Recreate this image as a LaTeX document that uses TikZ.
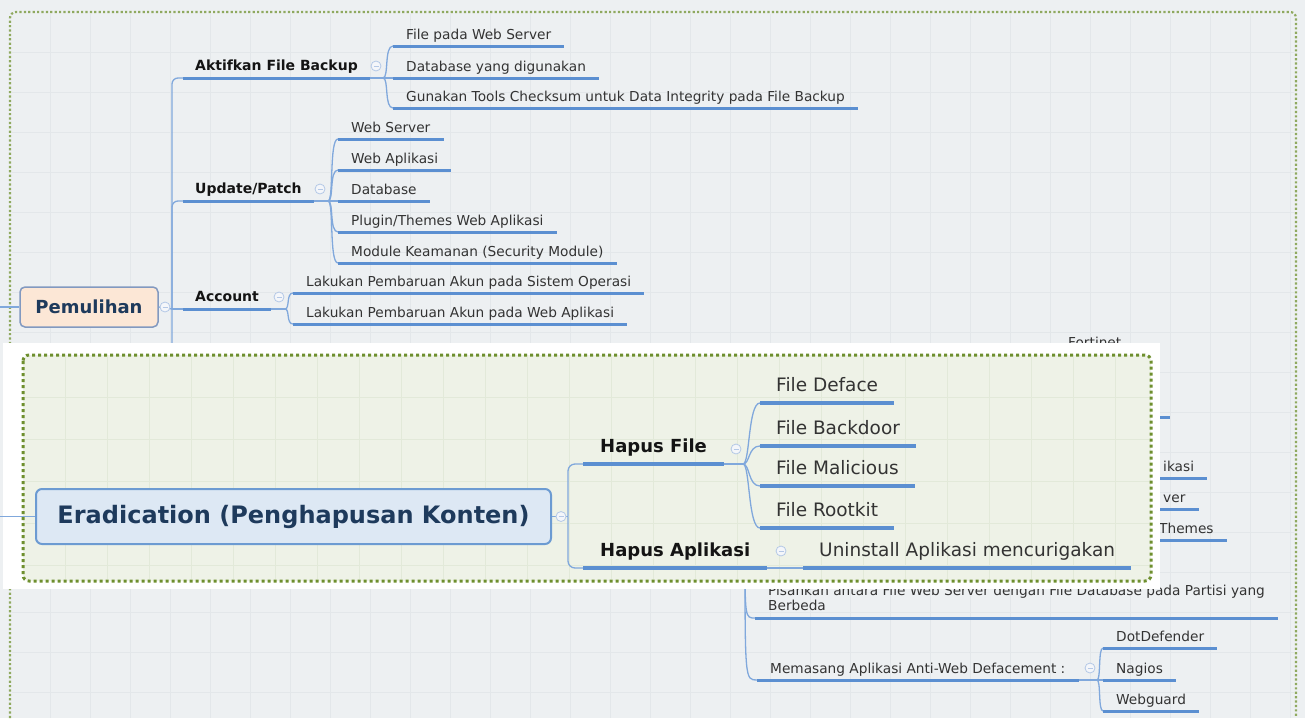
\documentclass[tikz,border=0pt]{standalone}
\usepackage{fontspec}
\setmainfont{DejaVu Sans}
\definecolor{bgfill}{HTML}{EDF0F2}
\definecolor{gridline}{HTML}{E3E7EA}
\definecolor{outerdot}{HTML}{8FA95F}
\definecolor{innerdot}{HTML}{6E8F2E}
\definecolor{panelfill}{HTML}{EEF2E7}
\definecolor{panelgrid}{HTML}{E2E9D9}
\definecolor{ulblue}{HTML}{5B8FD1}
\definecolor{linkblue}{HTML}{80A8DC}
\definecolor{foldblue}{HTML}{B4C8E6}
\definecolor{foldfill}{HTML}{F4F6FA}
\definecolor{itemtxt}{HTML}{333333}
\definecolor{labeltxt}{HTML}{141414}
\definecolor{rootnavy}{HTML}{1E3A5C}
\definecolor{pemfill}{HTML}{FCE7D6}
\definecolor{pemborder}{HTML}{8299C0}
\definecolor{erdfill}{HTML}{DDE8F4}
\definecolor{erdborder}{HTML}{6C9BD2}
\begin{document}
\begin{tikzpicture}[
 x=1pt,y=-1pt,
 item/.style={anchor=south west,inner xsep=13pt,inner ysep=3pt,text height=10pt,text depth=3pt,
  text=itemtxt,font={\fontsize{13.7pt}{15.5pt}\selectfont}},
 branch/.style={anchor=south west,inner xsep=12pt,inner ysep=3pt,text height=10pt,text depth=4pt,
  text=labeltxt,font={\bfseries\fontsize{14pt}{16pt}\selectfont}},
 bigitem/.style={anchor=south west,inner xsep=16pt,inner ysep=5pt,text height=14pt,text depth=6pt,
  text=itemtxt,font={\fontsize{18.5pt}{22pt}\selectfont}},
 bigbranch/.style={anchor=south west,inner xsep=17pt,inner ysep=5pt,text height=14pt,text depth=6pt,
  text=labeltxt,font={\bfseries\fontsize{18pt}{22pt}\selectfont}},
 rootP/.style={rounded corners=5pt,draw=pemborder,fill=pemfill,line width=1.5pt,text=rootnavy,
  font={\bfseries\fontsize{18pt}{20pt}\selectfont},minimum width=138pt,minimum height=40pt},
 rootE/.style={rounded corners=6pt,draw=erdborder,fill=erdfill,line width=2pt,text=rootnavy,
  font={\bfseries\fontsize{24pt}{28pt}\selectfont},minimum width=515pt,minimum height=55pt},
 uline/.style={draw=ulblue,line width=3pt},
 link/.style={draw=linkblue,line width=1.3pt},
 fold/.style={circle,draw=foldblue,fill=foldfill,line width=0.8pt,minimum size=10pt,inner sep=0pt,
  path picture={\draw[foldblue,line width=0.9pt]
   ([xshift=-2.5pt]path picture bounding box.center) -- ([xshift=2.5pt]path picture bounding box.center);}},
 outerdots/.style={draw=outerdot,line width=2.2pt,dash pattern=on 2.2pt off 2.2pt},
 innerdots/.style={draw=innerdot,line width=3pt,dash pattern=on 3pt off 3pt}
]
 % background map sheet
 \fill[bgfill] (0,0) rectangle (1305,718);
 \useasboundingbox (0,0) rectangle (1305,718);
 \foreach \gx in {50,90,...,1290} \draw[gridline] (\gx,14) -- (\gx,718);
 \foreach \gy in {52,92,...,712} \draw[gridline] (12,\gy) -- (1294,\gy);
 \draw[outerdots,rounded corners=6pt] (10,718) -- (10,12) -- (1296,12) -- (1296,718);

 % Pemulihan and its branches
 \node[rootP] (pem) at (89,307) {Pemulihan};
 \coordinate (inP) at (0,307);
 \coordinate (tP) at (172,309);
 \coordinate (tPd) at (172,380);
 \draw[link] (inP) -- (pem.west);
 \draw[link] (pem.east) -- (tP) -- (tPd);

 \node[branch] (akt) at (183,78) {Aktifkan File Backup};
 \node[branch] (upd) at (183,201) {Update/Patch};
 \node[branch] (acc) at (183,309) {Account};
 \draw[link,rounded corners=6pt] (tP) |- (akt.south west);
 \draw[link,rounded corners=6pt] (tP) |- (upd.south west);
 \draw[link] (tP) -- (acc.south west);

 \node[item] (a1) at (393,46) {File pada Web Server};
 \node[item] (a2) at (393,78) {Database yang digunakan};
 \node[item] (a3) at (393,108) {Gunakan Tools Checksum untuk Data Integrity pada File Backup};
 \node[item] (u1) at (338,139) {Web Server};
 \node[item] (u2) at (338,170) {Web Aplikasi};
 \node[item] (u3) at (338,201) {Database};
 \node[item] (u4) at (338,232) {Plugin/Themes Web Aplikasi};
 \node[item] (u5) at (338,263) {Module Keamanan (Security Module)};
 \node[item] (c1) at (293,293) {Lakukan Pembaruan Akun pada Sistem Operasi};
 \node[item] (c2) at (293,324) {Lakukan Pembaruan Akun pada Web Aplikasi};

 \coordinate (fA) at (383,78);
 \coordinate (fU) at (328,201);
 \coordinate (fC) at (285,309);
 \draw[link] (akt.south east) -- (fA);
 \draw[link] (upd.south east) -- (fU);
 \draw[link] (acc.south east) -- (fC);
 \foreach \c in {a1,a2,a3}
  \draw[link] (fA) .. controls +(6,0) and +(-9,0) .. (\c.south west);
 \foreach \c in {u1,u2,u3,u4,u5}
  \draw[link] (fU) .. controls +(6,0) and +(-9,0) .. (\c.south west);
 \foreach \c in {c1,c2}
  \draw[link] (fC) .. controls +(5,0) and +(-7,0) .. (\c.south west);

 \node[fold] (kP) at (165,307) {};
 \node[fold] (kA) at (376,66) {};
 \node[fold] (kU) at (320,189) {};
 \node[fold] (kC) at (279,297) {};

 % lower branch, mostly behind the inset
 \coordinate (fB) at (745,550);
 \node[anchor=south west,inner xsep=13pt,inner ysep=7pt,align=left,text=itemtxt,
  font={\fontsize{13.7pt}{15pt}\selectfont}] (p1) at (755,618)
  {Pisahkan antara File Web Server dengan File Database pada Partisi yang\\Berbeda};
 \node[item] (m1) at (757,680) {Memasang Aplikasi Anti-Web Defacement :};
 \node[item] (d1) at (1103,648) {DotDefender};
 \node[item] (d2) at (1103,680) {Nagios};
 \node[item] (d3) at (1103,711) {Webguard};
 \draw[link] (fB) .. controls (fB |- p1.south west) .. (p1.south west);
 \draw[link] (fB) .. controls (fB |- m1.south west) .. (m1.south west);
 \coordinate (fM) at (1097,680);
 \draw[link] (m1.south east) -- (fM);
 \foreach \c in {d1,d2,d3}
  \draw[link] (fM) .. controls +(4,0) and +(-5,0) .. (\c.south west);
 \node[fold] (kM) at (1090,668) {};

 % pieces showing right of the inset
 \node[item] (fo) at (1055,354) {Fortinet};
 \node[item] (r1) at (1150,478) {ikasi};
 \node[item] (r2) at (1150,509) {ver};
 \node[item] (r3) at (1146,540) {Themes};
 \coordinate (g1) at (1150,417);
 \coordinate (g2) at (1170,417);
 \draw[uline] (g1) -- (g2);

 \foreach \n in {akt,upd,acc,a1,a2,a3,u1,u2,u3,u4,u5,c1,c2,p1,m1,d1,d2,d3,fo,r1,r2,r3}
  \draw[uline] (\n.south west) -- (\n.south east);

 % inset: Eradication map
 \fill[white] (3,343) rectangle (1160,589);
 \draw[innerdots,fill=panelfill,rounded corners=6pt] (23,355) rectangle (1151,581);
 \foreach \gx in {65,107,...,1140} \draw[panelgrid] (\gx,357) -- (\gx,579);
 \foreach \gy in {397,439,...,575} \draw[panelgrid] (25,\gy) -- (1149,\gy);

 \node[rootE] (erd) at (293.5,516.5) {Eradication (Penghapusan Konten)};
 \coordinate (inE) at (0,516.5);
 \coordinate (tE) at (568,516.5);
 \draw[link] (inE) -- (erd.west);
 \draw[link] (erd.east) -- (tE);

 \node[bigbranch] (hf) at (583,464) {Hapus File};
 \node[bigbranch] (ha) at (583,568) {Hapus Aplikasi};
 \draw[link,rounded corners=7pt] (tE) |- (hf.south west);
 \draw[link,rounded corners=7pt] (tE) |- (ha.south west);

 \node[bigitem] (e1) at (760,403) {File Deface};
 \node[bigitem] (e2) at (760,446) {File Backdoor};
 \node[bigitem] (e3) at (760,486) {File Malicious};
 \node[bigitem] (e4) at (760,528) {File Rootkit};
 \node[bigitem] (un) at (803,568) {Uninstall Aplikasi mencurigakan};

 \coordinate (fE) at (743,464);
 \draw[link] (hf.south east) -- (fE);
 \foreach \c in {e1,e2,e3,e4}
  \draw[link] (fE) .. controls +(7,0) and +(-12,0) .. (\c.south west);
 \draw[link] (ha.south east) -- (un.south west);

 \foreach \n in {hf,ha,e1,e2,e3,e4,un}
  \draw[uline,line width=3.5pt] (\n.south west) -- (\n.south east);

 \node[fold] (kE) at (561,516.5) {};
 \node[fold] (kF) at (736,449) {};
 \node[fold] (kH) at (781,551) {};
\end{tikzpicture}
\end{document}
